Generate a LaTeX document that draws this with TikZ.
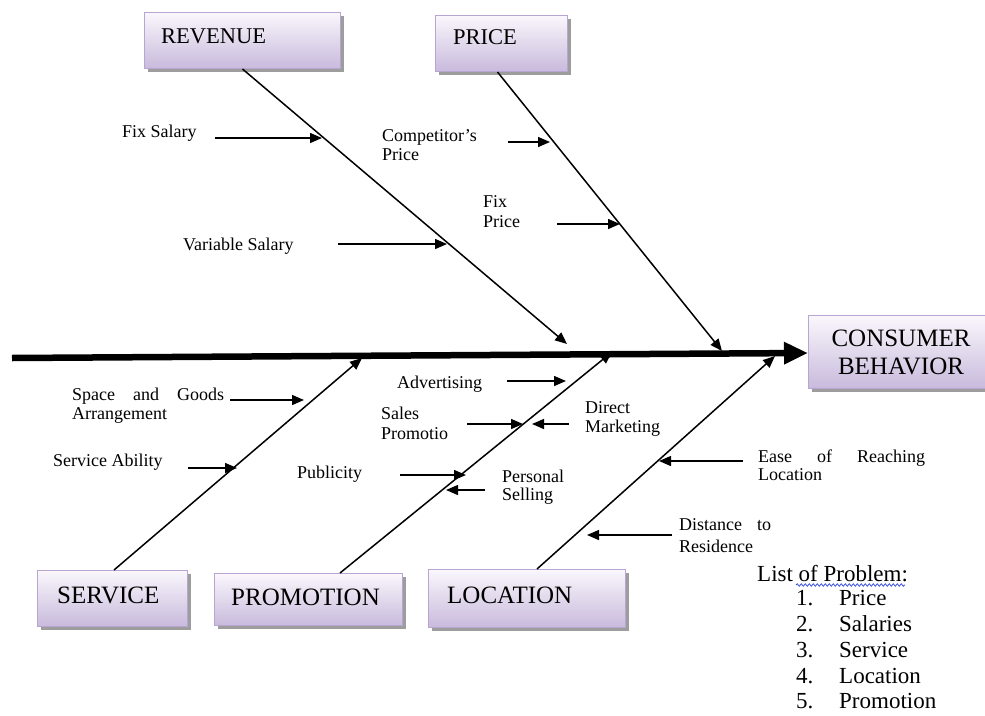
\documentclass[tikz,border=0pt]{standalone}
\usepackage{fontspec}
\setmainfont{Liberation Serif}
\usetikzlibrary{arrows.meta,shadows,decorations.pathmorphing}
\definecolor{boxborder}{RGB}{185,165,210}
\definecolor{boxtop}{RGB}{250,247,252}
\definecolor{boxbot}{RGB}{200,186,220}
\definecolor{spellblue}{RGB}{60,80,220}
\begin{document}
\begin{tikzpicture}[x=1pt,y=-1pt,
  box/.style={draw=boxborder, line width=1pt, top color=boxtop, bottom color=boxbot,
    drop shadow={shadow xshift=3pt,shadow yshift=-3pt,fill=black!45,opacity=0.85},
    inner sep=0pt, anchor=north west},
  toptext/.style={font=\fontsize{22.5}{25}\selectfont, inner sep=0pt, anchor=base west},
  bottext/.style={font=\fontsize{25}{27}\selectfont, inner sep=0pt, anchor=base west},
  lbl/.style={font=\fontsize{18}{20}\selectfont, inner sep=0pt, anchor=base west},
  lst/.style={font=\fontsize{23}{26}\selectfont, inner sep=0pt, anchor=base west},
  spine/.style={line width=6.5pt, -{Triangle[length=24pt,width=21pt]}},
  bone/.style={line width=1.5pt, -{Triangle[length=12pt,width=10pt]}},
  sub/.style={line width=1.4pt, -{Triangle[length=12pt,width=10pt]}}]
\useasboundingbox (0,0) rectangle (985,715);

% boxes
\node[box, minimum width=196pt, minimum height=56pt] (rev) at (144,12) {};
\node[box, minimum width=132pt, minimum height=56pt] (price) at (435,15) {};
\node[box, minimum width=180pt, minimum height=73pt] (cb) at (808,315) {};
\node[box, minimum width=150pt, minimum height=56pt] (serv) at (37,570) {};
\node[box, minimum width=188pt, minimum height=52pt] (promo) at (214,573) {};
\node[box, minimum width=197pt, minimum height=58pt] (loc) at (428,569) {};

% box texts
\node[toptext] (trev) at (161,43) {REVENUE};
\node[toptext] (tprice) at (453,44) {PRICE};
\node[font=\fontsize{25}{27}\selectfont, inner sep=0pt, anchor=base] (tcb1) at (901,346) {CONSUMER};
\node[font=\fontsize{25}{27}\selectfont, inner sep=0pt, anchor=base] (tcb2) at (901,374) {BEHAVIOR};
\node[bottext] (tserv) at (57,603) {SERVICE};
\node[bottext] (tpromo) at (231,605) {PROMOTION};
\node[bottext] (tloc) at (447,603) {LOCATION};

% spine
\coordinate (spineL) at (12,358);
\draw[spine] (spineL) -- (cb.west |- 0,353);

% bone coordinates
\coordinate (revTip) at (567,344);
\coordinate (priceTip) at (722,351);
\coordinate (servBase) at (114,570);
\coordinate (servTip) at (362,358);
\coordinate (promoBase) at (340,573);
\coordinate (promoTip) at (612,352);
\coordinate (locBase) at (537,569);
\coordinate (locTip) at (775,356);

\draw[bone] (rev.south) -- (revTip);
\draw[bone] (price.south) ++(-4,0) -- (priceTip);
\draw[bone] (servBase) -- (servTip);
\draw[bone] (promoBase) -- (promoTip);
\draw[bone] (locBase) -- (locTip);

% sub-cause labels
\node[lbl] (fixsal) at (122,137) {Fix Salary};
\node[lbl] (comp1) at (382,141) {Competitor's};
\node[lbl] (comp2) at (382,160) {Price};
\node[lbl] (fixp1) at (483,207) {Fix};
\node[lbl] (fixp2) at (483,227) {Price};
\node[lbl] (varsal) at (183,250) {Variable Salary};
\node[lbl] (space1) at (72,400) {\makebox[152pt][s]{Space and Goods}};
\node[lbl] (space2) at (72,419) {Arrangement};
\node[lbl] (servab) at (53,466) {Service Ability};
\node[lbl] (adv) at (397,388) {Advertising};
\node[lbl] (sales1) at (381,419) {Sales};
\node[lbl] (sales2) at (381,439) {Promotio};
\node[lbl] (direct1) at (585,413) {Direct};
\node[lbl] (direct2) at (585,432) {Marketing};
\node[lbl] (publ) at (297,478) {Publicity};
\node[lbl] (pers1) at (502,482) {Personal};
\node[lbl] (pers2) at (502,500) {Selling};
\node[lbl] (ease1) at (758,462) {\makebox[167pt][s]{Ease of Reaching}};
\node[lbl] (ease2) at (758,480) {Location};
\node[lbl] (dist1) at (679,530) {\makebox[92pt][s]{Distance to}};
\node[lbl] (dist2) at (679,552) {Residence};

% sub-cause arrows
\coordinate (aFixSal) at (215,138);   \coordinate (bFixSal) at (322,138);
\coordinate (aComp) at (508,142);     \coordinate (bComp) at (550,142);
\coordinate (aFixP) at (557,224);     \coordinate (bFixP) at (620,224);
\coordinate (aVar) at (338,244);      \coordinate (bVar) at (447,244);
\coordinate (aSpace) at (230,400);    \coordinate (bSpace) at (304,400);
\coordinate (aServ) at (188,468);     \coordinate (bServ) at (237,468);
\coordinate (aAdv) at (507,381);      \coordinate (bAdv) at (566,381);
\coordinate (aSales) at (467,424);    \coordinate (bSales) at (523,424);
\coordinate (aDir) at (569,424);      \coordinate (bDir) at (532,424);
\coordinate (aPubl) at (400,475);     \coordinate (bPubl) at (466,475);
\coordinate (aPers) at (485,490);     \coordinate (bPers) at (446,490);
\coordinate (aEase) at (743,461);     \coordinate (bEase) at (659,461);
\coordinate (aDist) at (672,535);     \coordinate (bDist) at (587,535);
\foreach \n in {FixSal,Comp,FixP,Var,Space,Serv,Adv,Sales,Dir,Publ,Pers,Ease,Dist}
  \draw[sub] (a\n) -- (b\n);

% list of problems
\node[lst] (ltitle) at (757,581) {List of Problem:};
\coordinate (wavyL) at (796,585);
\coordinate (wavyR) at (905,585);
\draw[spellblue, line width=0.8pt, decorate, decoration={snake, amplitude=1.2pt, segment length=4pt}] (wavyL) -- (wavyR);
\foreach \i/\t/\y in {1/Price/605, 2/Salaries/631, 3/Service/657, 4/Location/683, 5/Promotion/708}{
  \node[lst] (num\i) at (796,\y) {\i.};
  \node[lst] (item\i) at (839,\y) {\t};
}
\end{tikzpicture}
\end{document}
